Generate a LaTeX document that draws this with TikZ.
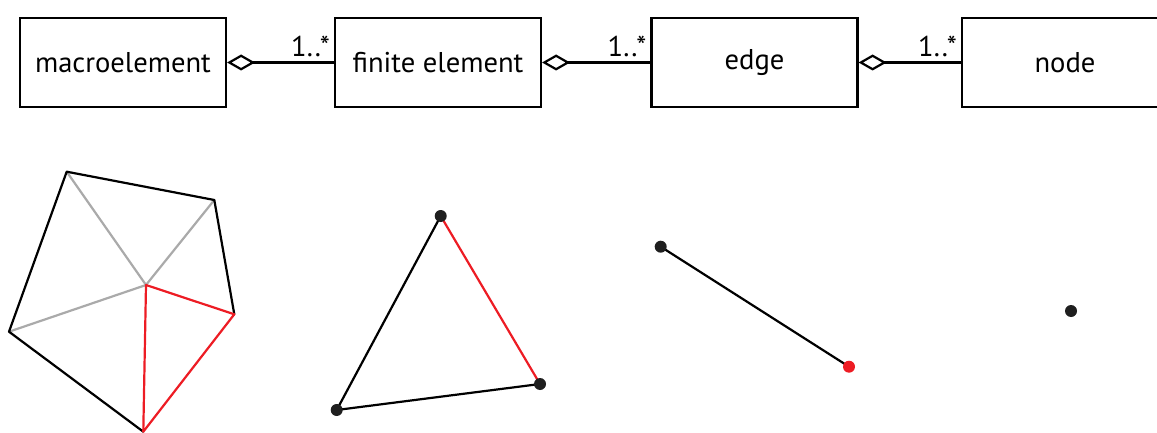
\documentclass[tikz,border=0pt]{standalone}
\usepackage{fontspec}
\setmainfont{PT Sans}
\usetikzlibrary{arrows.meta}
\definecolor{hred}{RGB}{237,28,36}
\definecolor{hgray}{RGB}{170,170,170}
\begin{document}
\begin{tikzpicture}[x=0.5pt, y=-0.5pt, font=\fontsize{14.3}{17}\selectfont,
    cls/.style={draw, line width=1.1pt, minimum width=103pt, minimum height=44.5pt, inner sep=0pt},
    agg/.style={line width=1.1pt, {Diamond[open, length=14pt, width=8pt]}-},
    mult/.style={pos=1, above left, inner sep=1.5pt, yshift=1pt},
    seg/.style={line width=1.1pt, line cap=round, line join=round},
    pt/.style={fill=black!88}]
  \useasboundingbox (0,0) rectangle (1157,433);
  % class diagram
  \node[cls] (macro) at (123,62.5) {macroelement};
  \node[cls] (felem) at (438,62.5) {finite element};
  \node[cls] (edge)  at (754.5,62.5) {edge};
  \node[cls] (vert)  at (1065,62.5) {node};
  \draw[agg] (macro) -- node[mult] {1..*} (felem);
  \draw[agg] (felem) -- node[mult] {1..*} (edge);
  \draw[agg] (edge) -- node[mult] {1..*} (vert);
  % macroelement
  \coordinate (mt) at (66.7,171.7);
  \coordinate (mu) at (214.3,200);
  \coordinate (mr) at (234.3,314.3);
  \coordinate (mb) at (143.3,431.7);
  \coordinate (ml) at (9,331.7);
  \coordinate (mc) at (146,285);
  \foreach \p in {mt, mu, ml}
    \draw[seg, hgray] (mc) -- (\p);
  \draw[seg] (mb) -- (ml) -- (mt) -- (mu) -- (mr);
  \draw[seg, hred] (mc) -- (mr) -- (mb) -- cycle;
  % finite element
  \coordinate (ta) at (440.7,216);
  \coordinate (tb) at (540,384);
  \coordinate (tc) at (336.7,410);
  \draw[seg] (ta) -- (tc) -- (tb);
  \draw[seg, hred] (ta) -- (tb);
  \foreach \p in {ta, tb, tc}
    \fill[pt] (\p) circle (3pt);
  % edge
  \coordinate (ea) at (660.7,246.7);
  \coordinate (eb) at (849,366.7);
  \draw[seg] (ea) -- (eb);
  \fill[pt] (ea) circle (3pt);
  \fill[hred] (eb) circle (3pt);
  % node
  \coordinate (na) at (1071,311);
  \fill[pt] (na) circle (3pt);
\end{tikzpicture}
\end{document}
